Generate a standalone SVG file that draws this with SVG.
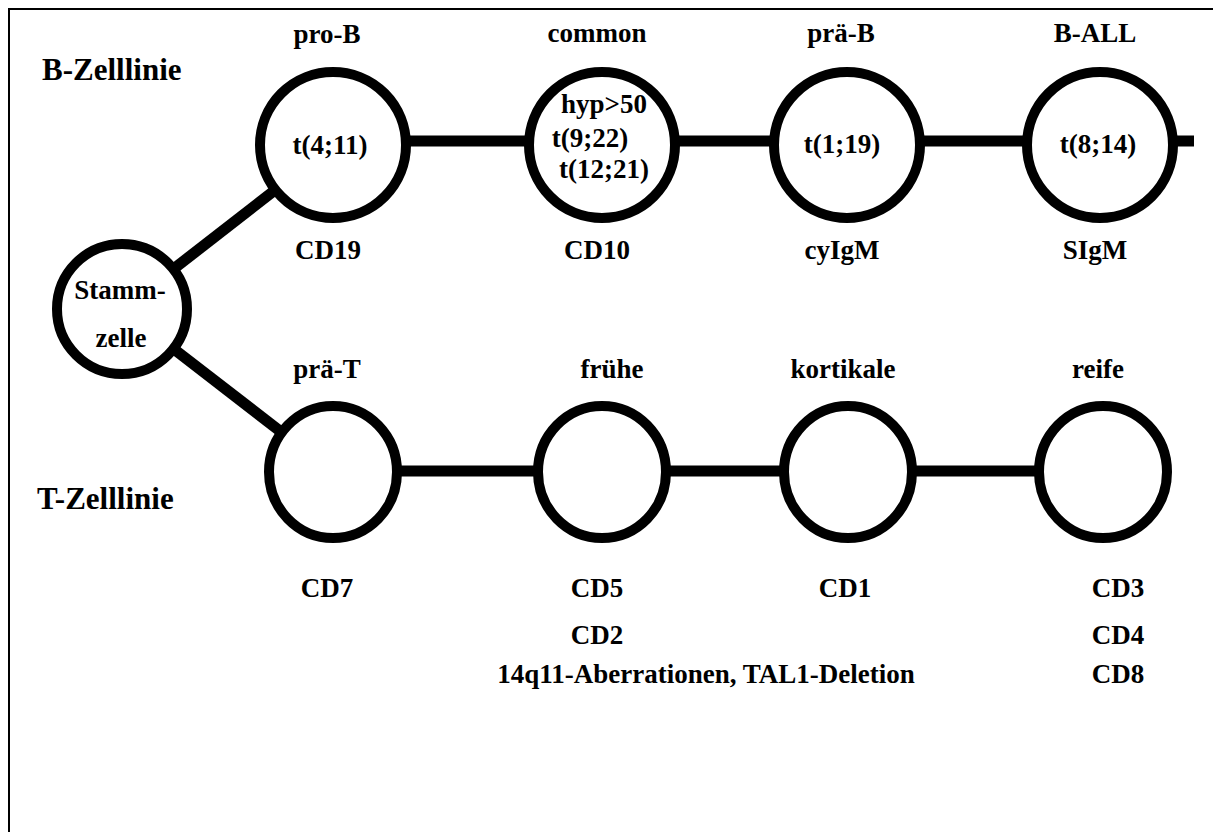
<svg xmlns="http://www.w3.org/2000/svg" width="1213" height="832" viewBox="0 0 1213 832">
  <style>
    .frame { fill: none; stroke: #000; stroke-width: 2; }
    .link { stroke: #000; stroke-width: 11; fill: none; }
    .cell { fill: #fff; stroke: #000; stroke-width: 10; }
    text { font-family: "Liberation Serif", "Times New Roman", serif; font-weight: bold; font-size: 27px; fill: #000; text-anchor: middle; }
    .lineage { font-size: 31px; text-anchor: start; }
  </style>

  <rect width="1213" height="832" fill="#fff"/>
  <path class="frame" d="M9,832 V9 H1213"/>

  <!-- lineage headings -->
  <text class="lineage" x="42" y="80">B-Zelllinie</text>
  <text class="lineage" x="37" y="509">T-Zelllinie</text>

  <!-- connectors -->
  <g id="connectors">
    <line class="link" x1="122" y1="309" x2="333" y2="145"/>
    <line class="link" x1="122" y1="309" x2="333" y2="472"/>
    <line class="link" x1="333" y1="141" x2="1194" y2="141"/>
    <line class="link" x1="333" y1="471" x2="1103" y2="471"/>
  </g>

  <!-- stem cell -->
  <g id="stammzelle">
    <circle class="cell" cx="122" cy="309" r="65"/>
    <text x="120" y="299">Stamm-</text>
    <text x="121" y="347">zelle</text>
  </g>

  <!-- B-cell line -->
  <g id="pro-b">
    <text x="327" y="43">pro-B</text>
    <circle class="cell" cx="333" cy="145" r="73"/>
    <text x="330" y="154">t(4;11)</text>
    <text x="328" y="259">CD19</text>
  </g>
  <g id="common">
    <text x="597" y="42">common</text>
    <circle class="cell" cx="602" cy="145" r="73"/>
    <text x="604" y="113">hyp&gt;50</text>
    <text x="590" y="147">t(9;22)</text>
    <text x="604" y="178">t(12;21)</text>
    <text x="597" y="259">CD10</text>
  </g>
  <g id="prae-b">
    <text x="841" y="42">prä-B</text>
    <circle class="cell" cx="847" cy="145" r="73"/>
    <text x="842" y="153">t(1;19)</text>
    <text x="842" y="259">cyIgM</text>
  </g>
  <g id="b-all">
    <text x="1095" y="42">B-ALL</text>
    <circle class="cell" cx="1100" cy="145" r="73"/>
    <text x="1098" y="153">t(8;14)</text>
    <text x="1095" y="259">SIgM</text>
  </g>

  <!-- T-cell line -->
  <g id="prae-t">
    <text x="327" y="378">prä-T</text>
    <ellipse class="cell" cx="333" cy="472" rx="64" ry="66"/>
    <text x="327" y="597">CD7</text>
  </g>
  <g id="fruehe">
    <text x="612" y="378">frühe</text>
    <ellipse class="cell" cx="602" cy="472" rx="64" ry="66"/>
    <text x="597" y="597">CD5</text>
    <text x="597" y="644">CD2</text>
    <text x="706" y="683">14q11-Aberrationen, TAL1-Deletion</text>
  </g>
  <g id="kortikale">
    <text x="843" y="378">kortikale</text>
    <ellipse class="cell" cx="848" cy="472" rx="64" ry="66"/>
    <text x="845" y="597">CD1</text>
  </g>
  <g id="reife">
    <text x="1098" y="378">reife</text>
    <ellipse class="cell" cx="1103" cy="472" rx="64" ry="66"/>
    <text x="1118" y="597">CD3</text>
    <text x="1118" y="644">CD4</text>
    <text x="1118" y="683">CD8</text>
  </g>
</svg>
